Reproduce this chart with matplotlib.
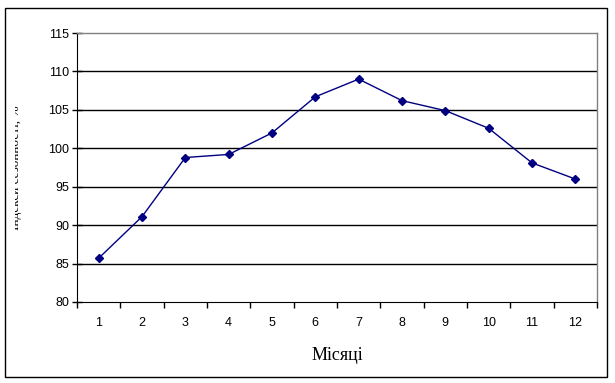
import matplotlib

matplotlib.use("Agg")
import matplotlib.pyplot as plt
from matplotlib.patches import Rectangle
from matplotlib.transforms import Bbox


MONTHS = [1, 2, 3, 4, 5, 6, 7, 8, 9, 10, 11, 12]
INDEX = [85.7, 91.1, 98.8, 99.2, 102.0, 106.7, 109.0, 106.2, 104.9, 102.6, 98.1, 96.0]
Y_TICKS = [80, 85, 90, 95, 100, 105, 110, 115]
X_LABEL = "Місяці"
Y_LABEL = "Індекси сезонності, %"

W, H = 615, 383


def main():
    fig = plt.figure(figsize=(W / 100, H / 100), dpi=100)
    ax = fig.add_axes([77 / W, 1 - 302 / H, 520 / W, 269 / H])

    pos = list(range(len(MONTHS)))
    ax.plot(pos, INDEX, color="#000080", linewidth=1.0, marker="D",
            markersize=4.5, markerfacecolor="#000080", markeredgecolor="#000080",
            zorder=3)

    ax.set_xlim(-0.5, len(MONTHS) - 0.5)
    ax.set_ylim(80, 115)
    ax.set_yticks(Y_TICKS)
    ax.set_yticklabels([str(v) for v in Y_TICKS], fontsize=9, family="Liberation Sans")
    for v in Y_TICKS[1:-1]:
        ax.axhline(v, color="black", linewidth=1.0, zorder=1)

    # category labels sit between boundary ticks
    ax.set_xticks([p - 0.5 for p in pos] + [len(MONTHS) - 0.5])
    ax.set_xticklabels([])
    ax.set_xticks(pos, minor=True)
    ax.set_xticklabels([str(m) for m in MONTHS], minor=True, fontsize=9,
                       family="Liberation Sans")
    ax.tick_params(axis="x", which="major", direction="out", length=4, width=1)
    ax.tick_params(axis="x", which="minor", length=0, pad=11)
    ax.tick_params(axis="y", direction="inout", length=7, width=1, pad=2)

    ax.spines["left"].set_color("black")
    ax.spines["bottom"].set_color("black")
    for s in ("top", "right"):
        ax.spines[s].set_color("#808080")
        ax.spines[s].set_linewidth(1.0)

    fig.text(337 / W, 1 - 355 / H, X_LABEL, ha="center", va="center",
             fontsize=13, family="Liberation Serif")

    # y label is clipped by the chart area in the original
    t = fig.text(16.5 / W, 1 - 168 / H, Y_LABEL, rotation=90, ha="center",
                 va="center", fontsize=9.5, family="Liberation Serif")
    t.set_clip_box(Bbox.from_extents(15, 0, W, H))
    t.set_clip_on(True)

    fig.patches.append(Rectangle((5 / W, 1 - 377 / H), 602 / W, 369 / H,
                                 transform=fig.transFigure, fill=False,
                                 edgecolor="black", linewidth=1.0))

    fig.savefig("out.png", dpi=100)


if __name__ == "__main__":
    main()
